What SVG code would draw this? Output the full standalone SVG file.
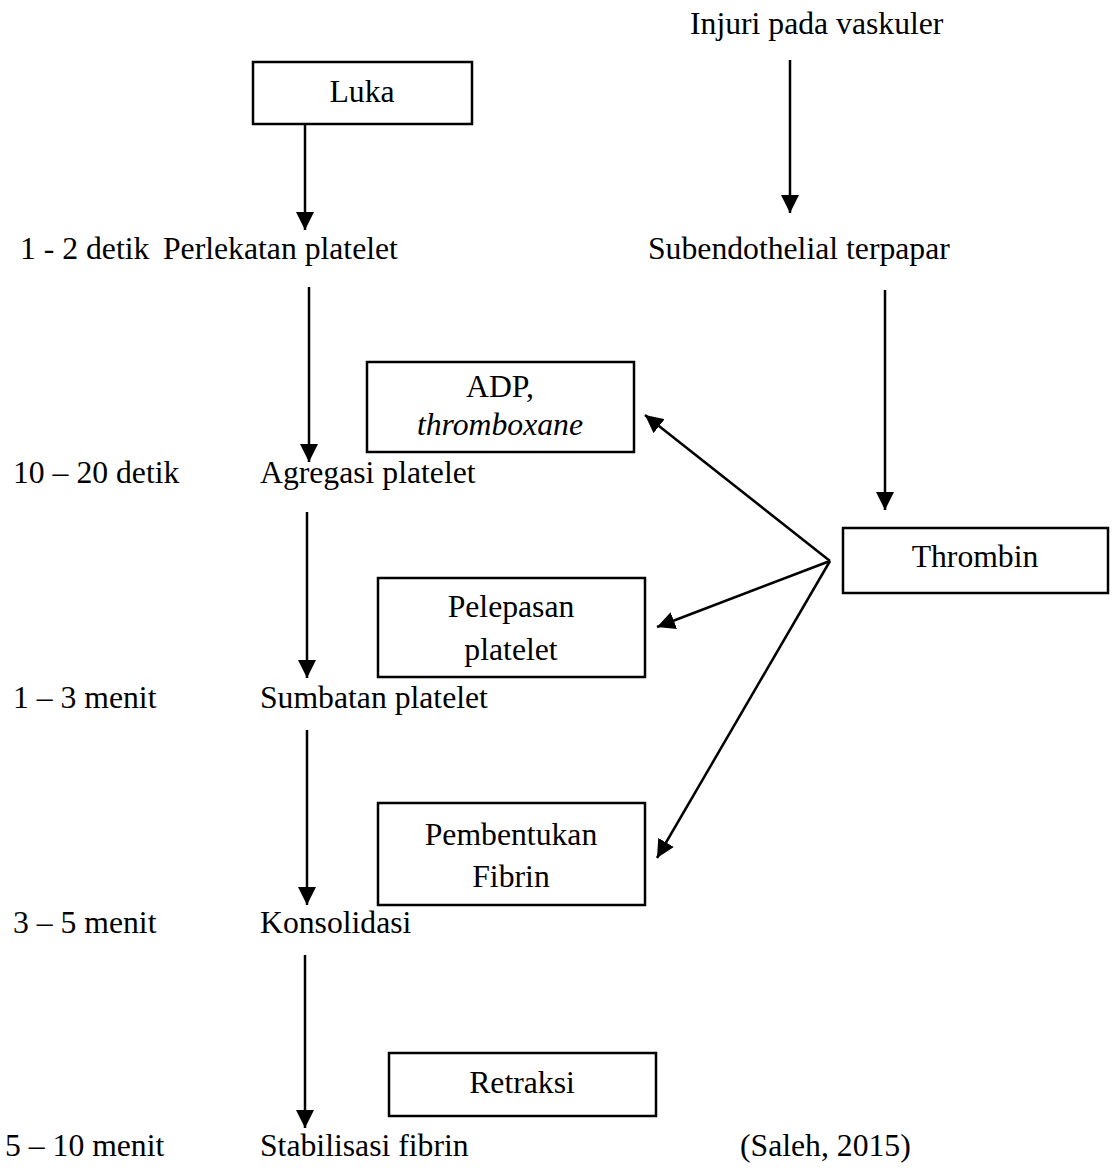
<svg xmlns="http://www.w3.org/2000/svg" width="1114" height="1168" viewBox="0 0 1114 1168">
<style>
text{font-family:"Liberation Serif","Times New Roman",serif;font-size:31.7px;fill:#000}
.c{text-anchor:middle}
.i{font-style:italic}
.box{fill:#fff;stroke:#000;stroke-width:2.5}
.ln{stroke:#000;stroke-width:2.5;fill:none;marker-end:url(#ah)}
</style>
<defs>
<marker id="ah" markerUnits="userSpaceOnUse" markerWidth="18" markerHeight="18" viewBox="0 0 16 16" refX="16" refY="8" orient="auto">
<path d="M0,0 L16,8 L0,16 z" fill="#000"/>
</marker>
</defs>
<rect width="1114" height="1168" fill="#fff"/>
<g id="connectors">
<line class="ln" x1="305" y1="124" x2="305" y2="230"/>
<line class="ln" x1="790" y1="60" x2="790" y2="213"/>
<line class="ln" x1="309" y1="287" x2="309" y2="462"/>
<line class="ln" x1="307" y1="512" x2="307" y2="678"/>
<line class="ln" x1="307" y1="730" x2="307" y2="905"/>
<line class="ln" x1="305" y1="955" x2="305" y2="1128"/>
<line class="ln" x1="885" y1="290" x2="885" y2="510"/>
<line class="ln" x1="830" y1="561" x2="645" y2="415"/>
<line class="ln" x1="830" y1="561" x2="657" y2="627"/>
<line class="ln" x1="830" y1="561" x2="657" y2="858"/>
</g>
<g id="luka"><rect class="box" x="253" y="62" width="219" height="62"/><text class="c" x="362" y="102">Luka</text></g>
<g id="injuri"><text x="690" y="34">Injuri pada vaskuler</text></g>
<g id="t1"><text x="20" y="259">1 - 2 detik</text></g>
<g id="perlekatan"><text x="163" y="259">Perlekatan platelet</text></g>
<g id="subendothelial"><text x="648" y="259">Subendothelial terpapar</text></g>
<g id="adp"><rect class="box" x="367" y="362" width="267" height="90"/><text class="c" x="500" y="397">ADP,</text><text class="c i" x="500" y="435">thromboxane</text></g>
<g id="t2"><text x="13" y="483">10 – 20 detik</text></g>
<g id="agregasi"><text x="260" y="483">Agregasi platelet</text></g>
<g id="thrombin"><rect class="box" x="843" y="528" width="265" height="65"/><text class="c" x="975" y="567">Thrombin</text></g>
<g id="pelepasan"><rect class="box" x="378" y="578" width="267" height="99"/><text class="c" x="511" y="617">Pelepasan</text><text class="c" x="511" y="660">platelet</text></g>
<g id="t3"><text x="13" y="708">1 – 3 menit</text></g>
<g id="sumbatan"><text x="260" y="708">Sumbatan platelet</text></g>
<g id="pembentukan"><rect class="box" x="378" y="803" width="267" height="102"/><text class="c" x="511" y="845">Pembentukan</text><text class="c" x="511" y="887">Fibrin</text></g>
<g id="t4"><text x="13" y="933">3 – 5 menit</text></g>
<g id="konsolidasi"><text x="260" y="933">Konsolidasi</text></g>
<g id="retraksi"><rect class="box" x="389" y="1053" width="267" height="63"/><text class="c" x="522" y="1093">Retraksi</text></g>
<g id="t5"><text x="5" y="1156">5 – 10 menit</text></g>
<g id="stabilisasi"><text x="260" y="1156">Stabilisasi fibrin</text></g>
<g id="saleh"><text x="740" y="1156">(Saleh, 2015)</text></g>
</svg>
